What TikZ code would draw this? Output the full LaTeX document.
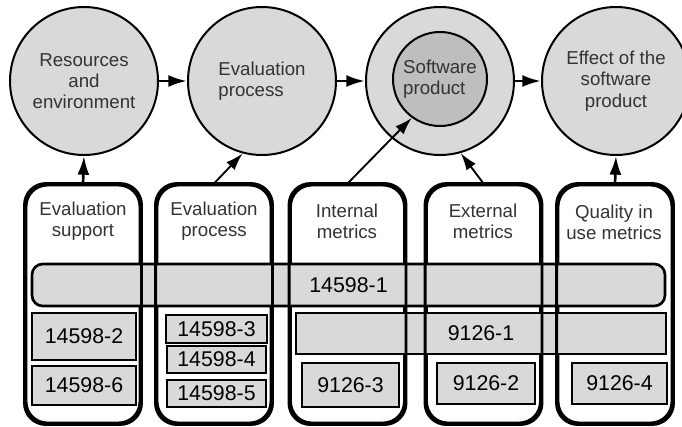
\documentclass[tikz,border=0pt]{standalone}
\usepackage{fontspec}
\setmainfont{Liberation Sans}
\usepackage{tikz}
\usetikzlibrary{arrows.meta}

\definecolor{lightgrey}{RGB}{217,217,217}
\definecolor{darkgrey}{RGB}{190,190,190}
\newcommand{\lblfont}{\fontsize{14}{16}\selectfont}
\newcommand{\numfont}{\fontsize{16}{18}\selectfont}

\tikzset{
  circ/.style={circle, draw, line width=1.5pt, fill=lightgrey, inner sep=0pt, minimum size=111pt, align=center, font=\lblfont, text=black!80},
  col/.style={draw, line width=2.2pt, fill=white, rounded corners=16pt, minimum width=85.5pt, minimum height=178.5pt},
  colline/.style={line width=2.2pt, rounded corners=16pt},
  lab/.style={align=center, font=\lblfont, inner sep=0pt, text=black!80},
  bar/.style={draw, line width=2pt, fill=lightgrey, inner sep=0pt, font=\numfont},
  arr/.style={-{Latex[length=14pt,width=9pt]}, line width=2pt},
  thinarr/.style={-{Latex[length=13pt,width=8.5pt]}, line width=1.4pt}
}

\begin{document}
\begin{tikzpicture}[x=0.75pt,y=0.75pt,yscale=-1,xscale=1]
\path[use as bounding box] (0,0) rectangle (682,426);

%Shape: Circles
\node[circ] (res) at (84,81) {Resources\\and\\environment};
\node[circ, align=left] (evp) at (262,81) {Evaluation\\process};
\node[circ] (outer) at (440,81) {};
\node[circ, fill=darkgrey, minimum size=70.5pt, align=left] (soft) at (440,79) {Software\\product};
\node[circ] (eff) at (616,81) {Effect of the\\software\\product};

%Straight Lines between circles
\draw[arr] (res) -- (evp);
\draw[arr] (evp) -- (outer);
\draw[arr] (outer) -- (eff);

%Shape: Columns
\node[col] (c1) at (83,304) {};
\node[col] (c2) at (214,304) {};
\node[col] (c3) at (347.5,304) {};
\node[col] (c4) at (483.5,304) {};
\node[col] (c5) at (615,304) {};

% Text Node
\node[lab] (t1) at (83,221) {Evaluation\\support};
\node[lab] (t2) at (214,221) {Evaluation\\process};
\node[lab] (t3) at (347,221) {Internal\\metrics};
\node[lab] (t4) at (483,221) {External\\metrics};
\node[lab] (t5) at (614,222) {Quality in\\use metrics};

%Shape: Bars
\node[bar, rounded corners=8pt, minimum width=474.75pt, minimum height=31.5pt] (b1) at (348.5,285) {14598-1};
\node[bar, minimum width=277.5pt, minimum height=30.75pt] (b2) at (481,333.5) {9126-1};
\node[bar, minimum width=78pt, minimum height=35.25pt] (b3) at (84,336.5) {14598-2};
\node[bar, minimum width=78pt, minimum height=29.25pt] (b4) at (84,385.5) {14598-6};
\node[bar, minimum width=75.75pt, minimum height=21pt] (b5) at (216.5,329) {14598-3};
\node[bar, minimum width=74.25pt, minimum height=20.25pt] (b6) at (216.5,359.5) {14598-4};
\node[bar, minimum width=74.25pt, minimum height=20.25pt] (b7) at (216.5,393.5) {14598-5};
\node[bar, minimum width=72.75pt, minimum height=33pt] (b8) at (350.5,385) {9126-3};
\node[bar, minimum width=73.5pt, minimum height=30.75pt] (b9) at (486,383.5) {9126-2};
\node[bar, minimum width=71.25pt, minimum height=30.75pt] (b10) at (619.5,383.5) {9126-4};

%Column borders over the bars
\foreach \c in {c1,c2,c3,c4,c5}
  \draw[colline] (\c.south west) rectangle (\c.north east);

%Straight Lines from columns
\draw[arr] (c1.north) -- (res.south);
\draw[thinarr] (c2.north) -- (evp.-105);
\draw[thinarr] (c3.north) -- (soft.-126);
\draw[thinarr] (c4.north) -- (outer.-74);
\draw[arr] (c5.north) -- (eff.south);
\end{tikzpicture}
\end{document}
